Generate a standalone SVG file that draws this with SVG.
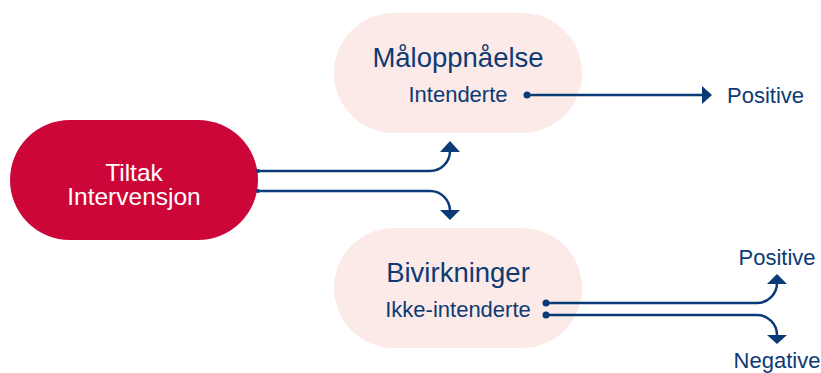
<svg xmlns="http://www.w3.org/2000/svg" width="821" height="373" viewBox="0 0 821 373">
  <style>
    .pill-main { fill: #CC0638; }
    .pill-soft { fill: #FBEAE7; }
    .title { font-family: "Liberation Sans", Arial, sans-serif; font-size: 27.5px; fill: #0E3A74; text-anchor: middle; }
    .sub { font-family: "Liberation Sans", Arial, sans-serif; font-size: 22px; fill: #0E3A74; text-anchor: middle; }
    .main-label { font-family: "Liberation Sans", Arial, sans-serif; font-size: 24.5px; fill: #FFFFFF; text-anchor: middle; }
    .outcome { font-family: "Liberation Sans", Arial, sans-serif; font-size: 22px; fill: #0E3A74; }
    .line { fill: none; stroke: #0B3B76; stroke-width: 2.5; }
    .head { fill: #0B3B76; }
  </style>

  <g id="tiltak">
    <rect class="pill-main" x="10" y="120" width="248" height="120" rx="60" ry="60"/>
    <text class="main-label" x="134" y="181">Tiltak</text>
    <text class="main-label" x="134" y="205">Intervensjon</text>
  </g>

  <g id="maloppnaelse">
    <rect class="pill-soft" x="334" y="13" width="248" height="120" rx="60" ry="60"/>
    <text class="title" x="458" y="67">Måloppnåelse</text>
    <text class="sub" x="458" y="102">Intenderte</text>
  </g>

  <g id="bivirkninger">
    <rect class="pill-soft" x="334" y="228" width="248" height="120" rx="60" ry="60"/>
    <text class="title" x="458" y="282">Bivirkninger</text>
    <text class="sub" x="458" y="317">Ikke-intenderte</text>
  </g>

  <g id="outcomes">
    <text class="outcome" x="727" y="103">Positive</text>
    <text class="outcome" x="777" y="265" text-anchor="middle">Positive</text>
    <text class="outcome" x="777" y="368" text-anchor="middle">Negative</text>
  </g>

  <g id="connectors">
    <!-- from Tiltak to the two outcome groups -->
    <circle class="head" cx="258" cy="171" r="2"/>
    <circle class="head" cx="258" cy="191" r="2"/>
    <path class="line" d="M258,171 H430 A20,20 0 0 0 450,151"/>
    <polygon class="head" points="440,152 460,152 450,141"/>
    <path class="line" d="M258,191 H430 A20,20 0 0 1 450,211"/>
    <polygon class="head" points="440,210 460,210 450,220"/>

    <!-- intended effects -->
    <circle class="head" cx="527" cy="95" r="3.5"/>
    <path class="line" d="M527,95 H703"/>
    <polygon class="head" points="702,86 712,95 702,104"/>

    <!-- side effects -->
    <circle class="head" cx="546" cy="303" r="3.5"/>
    <circle class="head" cx="546" cy="315" r="3.5"/>
    <path class="line" d="M546,303 H757 A20,20 0 0 0 777,283"/>
    <polygon class="head" points="767,284 787,284 777,274"/>
    <path class="line" d="M546,315 H757 A20,20 0 0 1 777,335"/>
    <polygon class="head" points="767,335 787,335 777,344"/>
  </g>
</svg>
